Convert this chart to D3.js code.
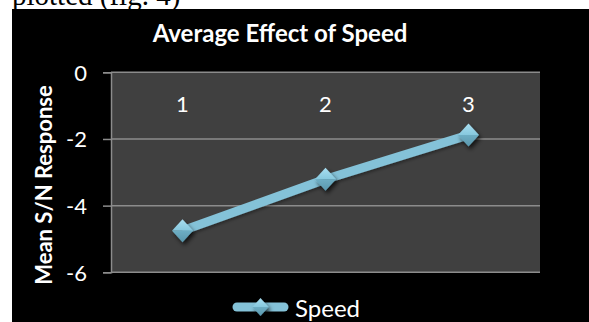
<!DOCTYPE html>
<html>
<head>
<meta charset="utf-8">
<script src="https://cdn.jsdelivr.net/npm/d3@7"></script>
<style>
  html, body { margin: 0; padding: 0; background: #fff; }
  svg { display: block; }
</style>
</head>
<body>
<svg id="chart" width="589" height="322"></svg>
<script>
// Chart data
const categories = ["1", "2", "3"];
const speedValues = [-4.75, -3.21, -1.88];
const yTicks = [0, -2, -4, -6];
const seriesName = "Speed";
const titleText = "Average Effect of Speed";
const yTitle = "Mean S/N Response";

const svg = d3.select("#chart");
const W = 589, H = 322;

// Caption line of the surrounding document, partly hidden by the chart
svg.append("text")
  .attr("x", 12).attr("y", 5)
  .attr("font-family", "Liberation Serif, Times New Roman, serif")
  .attr("font-size", 29)
  .attr("fill", "#000")
  .text("plotted (fig. 4)");

// Chart area
svg.append("rect").attr("x", 12).attr("y", 9).attr("width", W - 12).attr("height", H - 9).attr("fill", "#000");

const plot = { left: 111, right: 540, top: 72.3, bottom: 272.3 };

const x = d3.scaleBand().domain(categories).range([plot.left, plot.right]).padding(0);
const y = d3.scaleLinear().domain([-6, 0]).range([plot.bottom, plot.top]);

const defs = svg.append("defs");
const shadow = defs.append("filter").attr("id", "shadow")
  .attr("x", "-50%").attr("y", "-50%").attr("width", "200%").attr("height", "200%");
shadow.append("feDropShadow").attr("dx", 2).attr("dy", 3).attr("stdDeviation", 2)
  .attr("flood-color", "#000").attr("flood-opacity", 0.7);
const lineShadow = defs.append("filter").attr("id", "lineShadow")
  .attr("x", "-20%").attr("y", "-50%").attr("width", "140%").attr("height", "200%");
lineShadow.append("feDropShadow").attr("dx", 1).attr("dy", 2).attr("stdDeviation", 1.5)
  .attr("flood-color", "#000").attr("flood-opacity", 0.35);

const gradTop = defs.append("linearGradient").attr("id", "diaTop").attr("x1", 0).attr("y1", 0).attr("x2", 0).attr("y2", 1);
gradTop.append("stop").attr("offset", "0%").attr("stop-color", "#a9def0");
gradTop.append("stop").attr("offset", "100%").attr("stop-color", "#86c8de");
const gradBot = defs.append("linearGradient").attr("id", "diaBot").attr("x1", 0).attr("y1", 0).attr("x2", 0).attr("y2", 1);
gradBot.append("stop").attr("offset", "0%").attr("stop-color", "#6eaec4");
gradBot.append("stop").attr("offset", "100%").attr("stop-color", "#5a97ad");

// Plot background
svg.append("rect")
  .attr("x", plot.left).attr("y", plot.top)
  .attr("width", plot.right - plot.left).attr("height", plot.bottom - plot.top)
  .attr("fill", "#404040");

// Horizontal gridlines
svg.append("g").selectAll("line").data(yTicks).join("line")
  .attr("x1", plot.left).attr("x2", plot.right)
  .attr("y1", d => y(d)).attr("y2", d => y(d))
  .attr("stroke", "#8c8c8c").attr("stroke-width", 1.5);

// Y axis
const yAxis = d3.axisLeft(y).tickValues(yTicks).tickSize(8).tickPadding(16).tickFormat(d => d3.format("d")(d).replace("−", "-"));
const gy = svg.append("g").attr("transform", `translate(${plot.left},0)`).call(yAxis);
gy.select(".domain").attr("stroke", "#8c8c8c").attr("stroke-width", 1.5);
gy.selectAll(".tick line").attr("stroke", "#8c8c8c").attr("stroke-width", 1.5);
gy.selectAll(".tick text")
  .attr("fill", "#fff").attr("font-family", "Lato, Open Sans, sans-serif").attr("font-size", 22)
  .attr("dy", "0.36em");

// Category labels placed at the zero line (axis crosses at 0)
svg.append("g").selectAll("text").data(categories).join("text")
  .attr("x", d => x(d) + x.bandwidth() / 2)
  .attr("y", y(0) + 40)
  .attr("text-anchor", "middle")
  .attr("fill", "#fff").attr("font-family", "Lato, Open Sans, sans-serif").attr("font-size", 22)
  .text(d => d);

// Series line
const pts = categories.map((c, i) => [x(c) + x.bandwidth() / 2, y(speedValues[i])]);
svg.append("path")
  .attr("d", d3.line()(pts))
  .attr("fill", "none").attr("stroke", "#84c2d8").attr("stroke-width", 9)
  .attr("stroke-linejoin", "round").attr("filter", "url(#lineShadow)");

// Diamond markers with bevelled shading
function diamond(g, cx, cy, w, h) {
  const m = g.append("g").attr("transform", `translate(${cx},${cy})`).attr("filter", "url(#shadow)");
  m.append("path").attr("d", `M${-w/2},0 L0,${-h/2} L${w/2},0 Z`).attr("fill", "url(#diaTop)");
  m.append("path").attr("d", `M${-w/2},0 L0,${h/2} L${w/2},0 Z`).attr("fill", "url(#diaBot)");
}
const markers = svg.append("g");
pts.forEach(p => diamond(markers, p[0], p[1], 21, 23));

// Title
svg.append("text")
  .attr("x", 280).attr("y", 41.5)
  .attr("text-anchor", "middle")
  .attr("fill", "#fff").attr("font-family", "Lato, Open Sans, sans-serif")
  .attr("font-weight", "bold").attr("font-size", 24)
  .text(titleText);

// Y axis title
svg.append("text")
  .attr("transform", `translate(52,185) rotate(-90)`)
  .attr("text-anchor", "middle")
  .attr("fill", "#fff").attr("font-family", "Lato, Open Sans, sans-serif")
  .attr("font-weight", "bold").attr("font-size", 22)
  .text(yTitle);

// Legend
const lg = svg.append("g");
lg.append("line").attr("x1", 237).attr("x2", 284).attr("y1", 307).attr("y2", 307)
  .attr("stroke", "#84c2d8").attr("stroke-width", 9).attr("stroke-linecap", "round");
diamond(lg, 260.5, 307, 16, 18);
lg.append("text").attr("x", 295).attr("y", 316.5)
  .attr("fill", "#fff").attr("font-family", "Lato, Open Sans, sans-serif").attr("font-size", 24)
  .text(seriesName);
</script>
</body>
</html>
